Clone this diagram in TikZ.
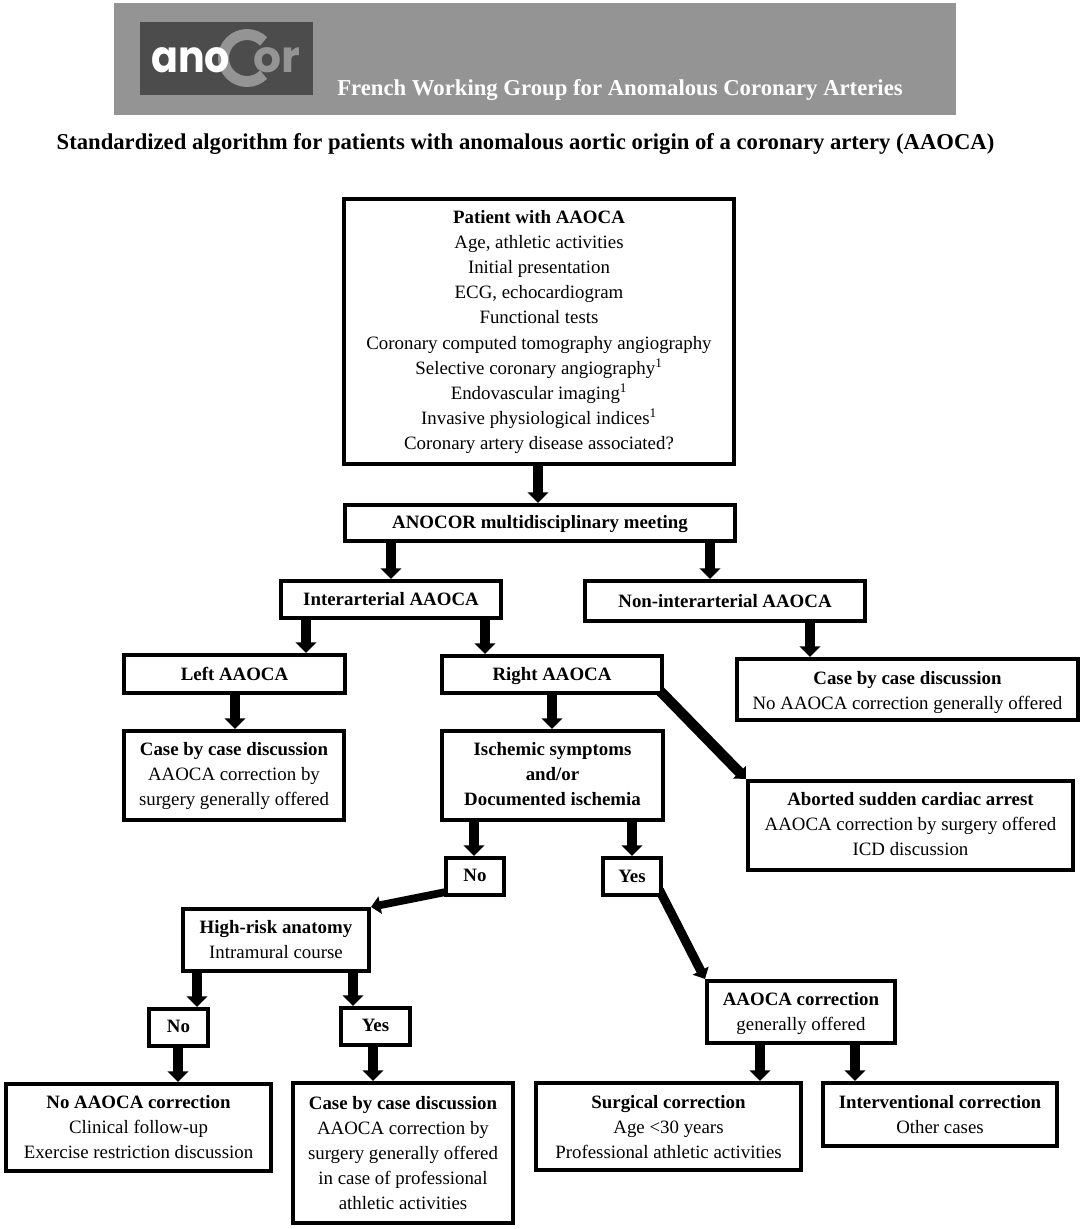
\documentclass[tikz,border=0pt]{standalone}
\usepackage{fontspec}
\setmainfont{Liberation Serif}
\newfontfamily\logofont{Poppins}
\usetikzlibrary{arrows.meta,backgrounds}
\newcommand{\bx}[6]{%
  \pgfmathsetmacro{\cxx}{(#2+#4)/2}\pgfmathsetmacro{\cyy}{(#3+#5)/2}%
  \pgfmathsetmacro{\wdd}{(#4-#2-3.5)*0.75}\pgfmathsetmacro{\htt}{(#5-#3-3.5)*0.75}%
  \node[flowbox,minimum width=\wdd pt,minimum height=\htt pt] (#1) at (\cxx,\cyy) {\strut #6\strut};}
\newcommand{\vcon}[3]{%
  \coordinate (#1#2x) at (#3,0);
  \draw[flowarrow] (#1.south -| #1#2x) -- (#2.north -| #1#2x);}
\newcommand{\dn}{\rule{0pt}{15pt}}
\newcommand{\dnn}{\rule{0pt}{16.2pt}}
\begin{document}
\begin{tikzpicture}[x=0.75pt,y=-0.75pt,
  flowbox/.style={draw=black,line width=2.7pt,fill=white,inner sep=0pt,align=center,
    font=\fontsize{14.15}{18.8}\selectfont},
  flowarrow/.style={line width=7pt,-{Triangle[width=15.5pt,length=8pt]}},
  diagarrow/.style={shorten <=-6pt,-{Triangle[width=13pt,length=7pt]}},
  bannertext/.style={text=white,font=\bfseries\fontsize{17.04}{20}\selectfont,inner sep=0pt},
  titletext/.style={text=black,font=\bfseries\fontsize{17}{20}\selectfont,inner sep=0pt}]
\useasboundingbox (0,0) rectangle (1084,1229);
% banner
\fill[fill=black!42] (114,3) rectangle (956,115);
\fill[fill=black!70] (140,22) rectangle (313,95);
\draw[line width=8.2pt,color=black!42] (263.6,41.4) arc[start angle=-45,end angle=-315,radius=23.5];
\node[anchor=base west,inner sep=0pt,text=black!42,font=\logofont\bfseries\fontsize{33}{33}\selectfont] (logoor) at (253,72) {or};
\node[anchor=base west,inner sep=0pt,text=white,xscale=0.9,font=\logofont\bfseries\fontsize{33}{33}\selectfont] (logoano) at (151,72) {ano};
\node[bannertext,anchor=base] (bannerlabel) at (620,95) {French Working Group for Anomalous Coronary Arteries};
\node[titletext,anchor=base] (title) at (525.5,149) {Standardized algorithm for patients with anomalous aortic origin of a coronary artery (AAOCA)};
% boxes
\bx{patient}{342}{197}{736}{466}{\textbf{Patient with AAOCA}\\Age, athletic activities\\Initial presentation\\ECG, echocardiogram\\Functional tests\\Coronary computed tomography angiography\\Selective coronary angiography\textsuperscript{1}\\Endovascular imaging\textsuperscript{1}\\Invasive physiological indices\textsuperscript{1}\\Coronary artery disease associated?}
\bx{meeting}{343}{503}{737}{543}{\textbf{ANOCOR multidisciplinary meeting}}
\bx{inter}{279}{579}{503}{620}{\dn\textbf{Interarterial AAOCA}}
\bx{noninter}{583}{579}{867}{623}{\dn\textbf{Non-interarterial AAOCA}}
\bx{left}{122}{653}{347}{695}{\dn\textbf{Left AAOCA}}
\bx{right}{440}{654}{664}{695}{\dn\textbf{Right AAOCA}}
\bx{casenon}{735}{657}{1080}{722}{\dnn\textbf{Case by case discussion}\\No AAOCA correction generally offered}
\bx{caseleft}{122}{729}{346}{822}{\textbf{Case by case discussion}\\AAOCA correction by\\surgery generally offered}
\bx{ischemic}{440}{729}{665}{822}{\textbf{Ischemic symptoms}\\\textbf{and/or}\\\textbf{Documented ischemia}}
\bx{aborted}{746}{779}{1075}{872}{\textbf{Aborted sudden cardiac arrest}\\AAOCA correction by surgery offered\\ICD discussion}
\bx{noa}{444}{856}{506}{897}{\textbf{No}}
\bx{yesa}{601}{856}{663}{897}{\dn\textbf{Yes}}
\bx{highrisk}{181}{907}{371}{973}{\dn\textbf{High-risk anatomy}\\Intramural course}
\bx{nob}{147}{1007}{210}{1048}{\textbf{No}}
\bx{yesb}{339}{1006}{412}{1047}{\textbf{Yes}}
\bx{nocorr}{4}{1082}{273}{1173}{\dn\textbf{No AAOCA correction}\\Clinical follow-up\\Exercise restriction discussion}
\bx{casesurg}{291}{1081}{515}{1225}{\dn\textbf{Case by case discussion}\\AAOCA correction by\\surgery generally offered\\in case of professional\\athletic activities}
\bx{correction}{705}{979}{897}{1045}{\dn\textbf{AAOCA correction}\\generally offered}
\bx{surgical}{534}{1081}{803}{1172}{\dnn\textbf{Surgical correction}\\Age <30 years\\Professional athletic activities}
\bx{interv}{821}{1081}{1059}{1148}{\dn\textbf{Interventional correction}\\Other cases}
% connectors
\vcon{patient}{meeting}{538}
\vcon{meeting}{inter}{391}
\vcon{meeting}{noninter}{710}
\vcon{inter}{left}{306}
\vcon{inter}{right}{485}
\vcon{noninter}{casenon}{810}
\vcon{left}{caseleft}{235}
\vcon{right}{ischemic}{552}
\vcon{ischemic}{noa}{474}
\vcon{ischemic}{yesa}{632}
\vcon{highrisk}{nob}{197}
\vcon{highrisk}{yesb}{353}
\vcon{nob}{nocorr}{178}
\vcon{yesb}{casesurg}{373}
\vcon{correction}{surgical}{760}
\vcon{correction}{interv}{855}
\begin{scope}[on background layer]
\draw[diagarrow,line width=7.8pt] (right.south east) -- (aborted.north west);
\draw[diagarrow,line width=5.8pt,shorten <=-2pt] ([yshift=3.5pt]noa.south west) -- (highrisk.north east);
\draw[diagarrow,line width=6.8pt] (yesa.south east) -- (correction.north west);
\end{scope}
\end{tikzpicture}
\end{document}
